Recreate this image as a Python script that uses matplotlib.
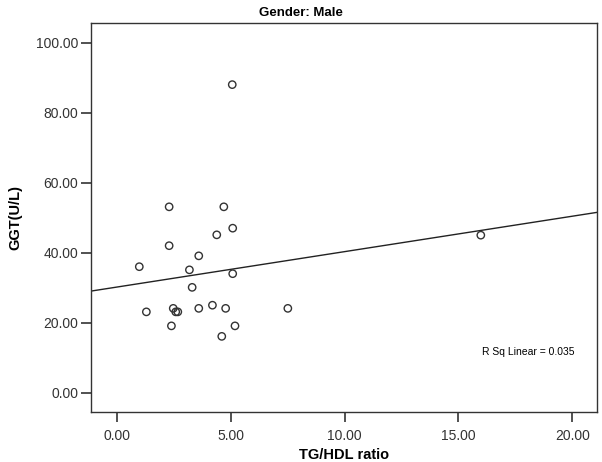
import numpy as np
import matplotlib
matplotlib.use("Agg")
import matplotlib.pyplot as plt

plt.rcParams['font.family'] = ['Liberation Sans', 'DejaVu Sans']

tg_hdl = [2.30, 4.70, 5.09, 4.39, 2.30, 3.60, 0.99, 3.19, 5.09, 3.31,
          1.30, 2.48, 2.59, 2.68, 3.60, 4.20, 4.78, 7.51, 2.40, 5.19,
          4.61, 5.07, 15.98]
ggt = [53.1, 53.1, 47.0, 45.1, 42.0, 39.1, 36.0, 35.1, 34.0, 30.1,
       23.1, 24.1, 23.1, 23.1, 24.1, 25.0, 24.1, 24.1, 19.1, 19.1,
       16.1, 88.0, 45.0]
x_ticks = [0, 5, 10, 15, 20]
y_ticks = [0, 20, 40, 60, 80, 100]
title = "Gender: Male"
x_label = "TG/HDL ratio"
y_label = "GGT(U/L)"
rsq_text = "R Sq Linear = 0.035"

fig = plt.figure(figsize=(6.02, 4.62), dpi=100)
ax = fig.add_axes([91/602, 1 - 412/462, (597-91)/602, (412-23)/462])

xmin, xmax = -1.13, 21.08
ax.set_xlim(xmin, xmax)
ax.set_ylim(-5.5, 105.6)

ax.scatter(tg_hdl, ggt, s=28, facecolors='none', edgecolors='#333333', linewidths=1.0, zorder=3)

slope, intercept = np.polyfit(tg_hdl, ggt, 1)
xs = np.array([xmin, xmax])
ax.plot(xs, intercept + slope * xs, color='#222222', linewidth=1.0, zorder=2)

ax.set_xticks(x_ticks)
ax.set_xticklabels([f"{v:.2f}" for v in x_ticks])
ax.set_yticks(y_ticks)
ax.set_yticklabels([f"{v:.2f}" for v in y_ticks])
ax.tick_params(direction='out', length=7, width=1.2, color='#333333',
               labelsize=10, labelcolor='#333333')
ax.tick_params(axis='x', pad=5)
ax.tick_params(axis='y', pad=2)

for sp in ax.spines.values():
    sp.set_color('#333333')
    sp.set_linewidth(1.0)

fig.text(0.5, 1 - 13/462, title, ha='center', va='center', fontsize=9.5, fontweight='bold')
ax.set_xlabel(x_label, fontsize=10.5, fontweight='bold', labelpad=4)
ax.set_ylabel(y_label, fontsize=10.5, fontweight='bold', labelpad=10)
ax.text(0.955, 0.155, rsq_text, transform=ax.transAxes, ha='right', va='center', fontsize=7.5)

fig.savefig("out.png", dpi=100)
